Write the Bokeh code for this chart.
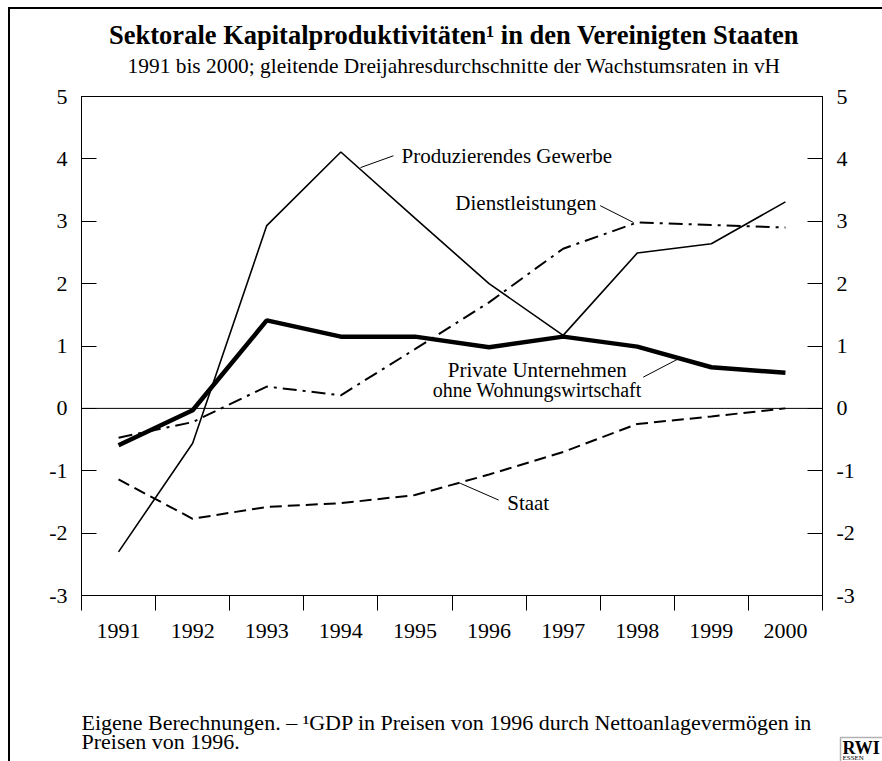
from bokeh.plotting import figure
from bokeh.layouts import column
from bokeh.models import (Range1d, FixedTicker, LinearAxis, Label, Span,
                          ColumnDataSource, BoxAnnotation)
from bokeh.embed import file_html
from bokeh.resources import INLINE

# ---------------- data ----------------
years = [1991, 1992, 1993, 1994, 1995, 1996, 1997, 1998, 1999, 2000]
produzierendes = [-2.30, -0.56, 2.93, 4.11, 3.05, 2.00, 1.17, 2.49, 2.64, 3.31]
private = [-0.59, -0.03, 1.41, 1.15, 1.15, 0.98, 1.15, 0.99, 0.66, 0.57]
dienstleistungen = [-0.47, -0.22, 0.35, 0.21, 0.95, 1.70, 2.56, 2.98, 2.94, 2.90]
staat = [-1.14, -1.77, -1.58, -1.52, -1.39, -1.06, -0.70, -0.25, -0.13, 0.00]
y_ticks = [-3, -2, -1, 0, 1, 2, 3, 4, 5]
y_tick_labels = ["-3", "-2", "-1", "0", "1", "2", "3", "4", "5"]
year_bounds = [1990.5 + i for i in range(11)]

title_text = "Sektorale Kapitalproduktivitäten¹ in den Vereinigten Staaten"
subtitle_text = "1991 bis 2000; gleitende Dreijahresdurchschnitte der Wachstumsraten in vH"
foot1 = "Eigene Berechnungen. – ¹GDP in Preisen von 1996 durch Nettoanlagevermögen in"
foot2 = "Preisen von 1996."

FONT = "Liberation Serif"
W = 872
H_TOP = 72
H_MAIN = 579
H_FOOT = 101


def no_align(fig):
    if "frame_align" in fig.properties():
        fig.frame_align = False


def lbl(fig, x, y, t, align="left", size="21px", style="normal"):
    fig.add_layout(Label(x=x, y=y, text=t, text_font=FONT, text_font_size=size,
                         text_font_style=style, text_align=align,
                         text_baseline="middle", text_color="black"))


def text_panel(height):
    fig = figure(width=W, height=height, output_backend="svg", toolbar_location=None,
                 x_range=Range1d(0, W), y_range=Range1d(height, 0),
                 x_axis_type=None, y_axis_type=None,
                 min_border_left=0, min_border_right=0,
                 min_border_top=0, min_border_bottom=0)
    fig.outline_line_color = None
    fig.background_fill_color = "white"
    fig.border_fill_color = "white"
    no_align(fig)
    return fig


# ---------------- title panel ----------------
t = text_panel(H_TOP)
lbl(t, 443.5, 25, title_text, align="center", size="26.5px", style="bold")
lbl(t, 443.5, 56, subtitle_text, align="center", size="21.4px")

# ---------------- main chart ----------------
p = figure(width=W, height=H_MAIN, output_backend="svg", toolbar_location=None,
           x_range=Range1d(1990.5, 2000.5), y_range=Range1d(-3, 5),
           x_axis_type=None, y_axis_type=None,
           min_border_left=71, min_border_right=60,
           min_border_top=15, min_border_bottom=65)
p.outline_line_color = "black"
p.outline_line_width = 1
p.background_fill_color = "white"
p.border_fill_color = "white"
no_align(p)

xaxis = LinearAxis(ticker=FixedTicker(ticks=years, minor_ticks=year_bounds))
xaxis.major_tick_in = 0
xaxis.major_tick_out = 0
xaxis.minor_tick_in = 0
xaxis.minor_tick_out = 15
xaxis.minor_tick_line_color = "black"
xaxis.axis_line_color = "black"
xaxis.major_label_standoff = 13
xaxis.major_label_text_font = FONT
xaxis.major_label_text_font_size = "22px"
xaxis.major_label_text_color = "black"
p.add_layout(xaxis, "below")

for side in ("left", "right"):
    ax = LinearAxis(ticker=FixedTicker(ticks=y_ticks, minor_ticks=[]))
    ax.major_label_overrides = {tk: s for tk, s in zip(y_ticks, y_tick_labels)}
    ax.major_tick_in = 15
    ax.major_tick_out = 0
    ax.minor_tick_in = 0
    ax.minor_tick_out = 0
    ax.major_tick_line_color = "black"
    ax.axis_line_color = "black"
    ax.major_label_standoff = 14
    ax.major_label_text_font = FONT
    ax.major_label_text_font_size = "22px"
    ax.major_label_text_color = "black"
    p.add_layout(ax, side)

p.add_layout(Span(location=0, dimension="width", line_color="black", line_width=1))

src = ColumnDataSource(dict(x=years, prod=produzierendes, priv=private,
                            dienst=dienstleistungen, staat=staat))
p.line("x", "staat", source=src, line_color="black", line_width=2, line_dash="12 6")
p.line("x", "dienst", source=src, line_color="black", line_width=2, line_dash="14 6 3 6")
p.line("x", "prod", source=src, line_color="black", line_width=1.6)
p.line("x", "priv", source=src, line_color="black", line_width=4.5)

lbl(p, 1994.82, 4.05, "Produzierendes Gewerbe")
p.segment(x0=[1994.265], y0=[3.86], x1=[1994.71], y1=[4.05], line_color="black", line_width=1)
lbl(p, 1997.45, 3.29, "Dienstleistungen", align="right")
p.segment(x0=[1997.50], y0=[3.25], x1=[1997.95], y1=[2.98], line_color="black", line_width=1)
lbl(p, 1996.65, 0.61, "Private Unternehmen", align="center")
lbl(p, 1996.65, 0.30, "ohne Wohnungswirtschaft", align="center", size="20px")
p.segment(x0=[1998.08], y0=[0.50], x1=[1998.54], y1=[0.785], line_color="black", line_width=1)
lbl(p, 1996.245, -1.52, "Staat")
p.segment(x0=[1995.61], y0=[-1.20], x1=[1996.13], y1=[-1.47], line_color="black", line_width=1)

# ---------------- footnote panel ----------------
f = text_panel(H_FOOT)
lbl(f, 71, 62, foot1, size="22px")
lbl(f, 71, 81, foot2, size="22px")
f.add_layout(BoxAnnotation(left=830, right=W + 20, top=77, bottom=H_FOOT + 20,
                           fill_alpha=0, line_color="black", line_width=1.5))
lbl(f, 832, 87, "RWI", size="18px", style="bold")
lbl(f, 832, 97, "ESSEN", size="7px")

layout = column(t, p, f, spacing=0,
                styles={"border-left": "2px solid black", "border-top": "2px solid black",
                        "margin-left": "8px", "margin-top": "7px"})

open("out.html", "w").write(file_html(layout, INLINE))
